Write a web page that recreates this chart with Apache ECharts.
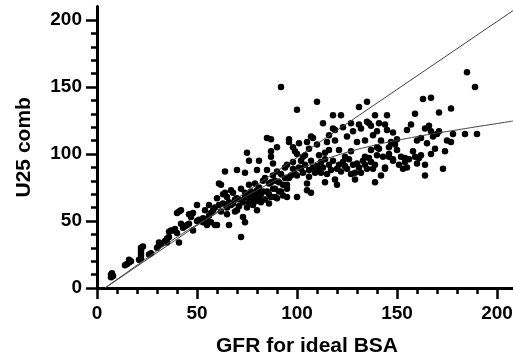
<!DOCTYPE html>
<html><head><meta charset="utf-8">
<script src="https://cdn.jsdelivr.net/npm/echarts@6/dist/echarts.min.js"></script>
<style>html,body{margin:0;padding:0;background:#fff}#c{width:513px;height:361px}</style>
</head><body><div id="c"></div>
<script>
// Scatter data: GFR for ideal BSA (x) vs U25 comb (y)
const gfr = [
7,7,7.5,8,14,15,16,16,17,21,22,22,22,22,22,23,27,26,30,31,31,32,34,35,35,36,36,37,38,39,40,41,40,41,42,42,43,44,
45,46,46,47,48,48,50,50,51,52,53,55,55,56,56,57,58,59,59,57,54,53,
60,60,61,61,62,62,63,63,64,64,65,65,65,66,66,67,67,68,68,69,69,70,70,70,71,71,72,72,73,73,74,74,74,74,75,75,75,76,76,76,76,77,77,78,78,79,79,79,80,80,80,80,
81,81,81,82,82,83,83,84,84,85,85,85,86,86,86,87,87,87,87,87,88,88,88,89,89,89,90,90,90,91,91,92,92,92,93,93,94,94,95,95,95,95,96,96,96,97,
98,99,100,100,101,103,104,105,106,108,107,110,110,111,113,114,115,116,116,118,118,119,119,121,122,123,124,125,127,127,128,130,131,131,132,134,134,135,135,136,137,137,139,140,140,138,
98,98,99,100,100,101,102,102,103,104,105,105,106,106,107,107,108,109,110,111,112,112,113,114,114,115,116,117,118,119,120,120,121,122,123,124,125,126,127,128,129,129,130,131,132,133,134,135,136,137,138,139,139,140,
141,141,142,142,143,144,144,145,145,146,146,146,147,148,148,149,150,150,151,152,153,154,154,155,155,156,157,158,159,159,160,160,161,162,162,163,164,164,164,165,166,167,167,167,168,169,170,171,171,173,174,175,177,177,178,184,185,189,190,144,148
];
const u25 = [
8,10,11,9,17,18,19,21,20,21,22,24,26,28,30,31,26,25,30,32,34,33,35,37,34,38,42,43,43,44,41,34,56,57,58,48,45,46,
47,48,55,53,43,56,62,50,51,50,52,51,47,62,54,56,58,47,60,49,58,49,
47,67,78,62,57,77,63,70,87,71,68,60,55,47,64,73,62,71,63,57,66,58,88,67,66,61,74,38,53,64,68,49,86,71,68,60,101,69,77,64,95,66,72,67,62,78,67,70,73,88,65,58,
67,95,75,70,64,72,80,66,82,72,88,112,70,78,63,68,79,111,102,98,74,84,93,74,80,68,105,67,87,79,72,72,85,150,77,69,90,82,77,92,74,68,109,111,82,84,
105,102,133,100,108,98,99,109,104,112,113,107,139,99,123,101,109,114,103,119,129,110,118,103,129,120,98,113,123,102,117,109,135,122,119,110,98,139,124,123,103,121,129,117,105,114,
89,94,85,84,68,90,89,95,86,92,78,73,83,88,71,95,90,86,91,88,86,94,90,79,96,85,92,88,95,81,77,89,92,87,94,91,89,96,85,92,81,86,93,90,86,95,92,89,97,94,89,79,92,99,
104,123,84,110,98,89,122,129,118,105,100,98,109,96,116,107,103,111,92,98,89,94,97,90,118,96,122,102,98,130,110,93,97,112,99,141,84,92,119,108,121,100,117,142,113,104,115,117,131,89,102,110,134,109,115,115,161,150,115,90,95
];
// Reference lines
const lineX = [4, 208];
const lineY = [0, 207];
const curveX = [4, 20, 40, 60, 80, 100, 120, 140, 160, 180, 208];
const curveY = [0, 17, 38, 56, 73, 88, 99, 107, 113, 118, 124.6];
const majorTicks = [0, 50, 100, 150, 200];

const pts = gfr.map((x, i) => [x, u25[i]]);
const straight = lineX.map((x, i) => [x, lineY[i]]);
const curve = curveX.map((x, i) => [x, curveY[i]]);
const FONT = '"Liberation Sans", Arial, sans-serif';
const nameStyle = {fontFamily: FONT, fontWeight: 'bold', fontSize: 21, color: '#000'};

function axis(isX, name, nameGap) {
  const a = {
    type: 'value', min: 0, max: 210, interval: 50, position: isX ? 'bottom' : 'left',
    axisLine: {show: true, onZero: false, lineStyle: {color: '#000', width: 3}},
    axisTick: {show: true, length: 11, customValues: majorTicks, lineStyle: {color: '#000', width: 2.5}},
    minorTick: {show: true, splitNumber: 5, length: 6, lineStyle: {color: '#000', width: 2.5}},
    axisLabel: {show: true, customValues: majorTicks, margin: isX ? 16 : 15,
      fontFamily: FONT, fontWeight: 'bold', fontSize: 19, color: '#000'},
    splitLine: {show: false},
    minorSplitLine: {show: false},
    name: name, nameLocation: 'middle', nameGap: nameGap, nameTextStyle: nameStyle
  };
  if (!isX) a.nameRotate = 90;
  return a;
}

const chart = echarts.init(document.getElementById('c'), null, {renderer: 'canvas'});
chart.setOption({
  animation: false,
  backgroundColor: '#fff',
  grid: {left: 97, top: 6.6, width: 420, height: 281.4, containLabel: false, outerBoundsMode: 'none'},
  xAxis: axis(true, 'GFR for ideal BSA', 48),
  yAxis: axis(false, 'U25 comb', 62),
  series: [{
    type: 'scatter', data: pts, symbol: 'circle', symbolSize: 6.5,
    itemStyle: {color: '#000', opacity: 1}, z: 2
  }, {
    type: 'line', data: straight, showSymbol: false, symbol: 'none',
    lineStyle: {color: '#444', width: 1}, z: 3
  }, {
    type: 'line', data: curve, smooth: 0.4, showSymbol: false, symbol: 'none',
    lineStyle: {color: '#444', width: 1}, z: 3
  }]
});
</script></body></html>
